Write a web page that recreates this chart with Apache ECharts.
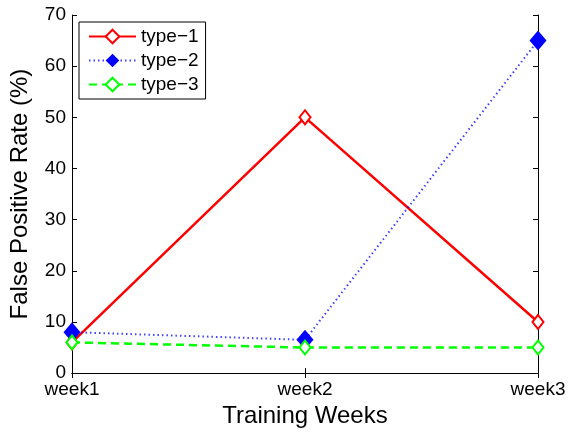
<!DOCTYPE html>
<html><head><meta charset="utf-8">
<script src="https://cdn.jsdelivr.net/npm/echarts@6/dist/echarts.min.js"></script>
<style>html,body{margin:0;padding:0;background:#fff}#c{width:570px;height:433px}</style>
</head><body><div id="c"></div>
<script>
const categories = ['week1', 'week2', 'week3'];
const type1 = [6, 50, 10];
const type2 = [8, 6.5, 65];
const type3 = [6, 5, 5];
const seriesNames = ['type\u22121', 'type\u22122', 'type\u22123'];
const yTicks = {min: 0, max: 70, interval: 10};

const font = 'Liberation Sans, Arial, Helvetica, sans-serif';
const chart = echarts.init(document.getElementById('c'));
const axisLine = {show: true, lineStyle: {color: '#000', width: 1}};
const tick = {show: true, inside: true, length: 5, lineStyle: {color: '#000'}};
chart.setOption({
  animation: false,
  backgroundColor: '#fff',
  grid: {left: 69, top: 15, right: 32, bottom: 53, containLabel: false},
  legend: {
    orient: 'vertical', left: 79, top: 22,
    padding: [5, 7, 5, 9], itemGap: 5,
    itemWidth: 47, itemHeight: 17,
    borderColor: '#000', borderWidth: 1, backgroundColor: '#fff',
    textStyle: {fontFamily: font, fontSize: 19, color: '#000', lineHeight: 19},
    data: seriesNames
  },
  xAxis: [{
    type: 'category', data: categories, boundaryGap: false,
    axisLine: axisLine, axisTick: Object.assign({alignWithLabel: true}, tick),
    axisLabel: {fontFamily: font, fontSize: 19, color: '#000', margin: 7},
    splitLine: {show: false},
    name: 'Training Weeks', nameLocation: 'middle', nameGap: 28,
    nameTextStyle: {fontFamily: font, fontSize: 24, color: '#000'}
  }, {
    type: 'category', data: categories, boundaryGap: false, position: 'top',
    axisLine: axisLine, axisTick: tick, axisLabel: {show: false}, splitLine: {show: false}
  }],
  yAxis: [{
    type: 'value', min: yTicks.min, max: yTicks.max, interval: yTicks.interval,
    axisLine: axisLine, axisTick: tick,
    axisLabel: {fontFamily: font, fontSize: 19, color: '#000', margin: 6},
    splitLine: {show: false},
    name: 'False Positive Rate (%)', nameLocation: 'middle', nameGap: 40,
    nameTextStyle: {fontFamily: font, fontSize: 24, color: '#000'}
  }, {
    type: 'value', min: yTicks.min, max: yTicks.max, interval: yTicks.interval, position: 'right',
    axisLine: axisLine, axisTick: tick, axisLabel: {show: false}, splitLine: {show: false}
  }],
  series: [{
    name: seriesNames[0], type: 'line', data: type1, z: 3,
    symbol: 'diamond', symbolSize: [11, 14], showAllSymbol: true,
    lineStyle: {color: '#ff0000', width: 2.5, type: 'solid'},
    itemStyle: {color: '#ffffff', borderColor: '#ff0000', borderWidth: 2}
  }, {
    name: seriesNames[1], type: 'line', data: type2, z: 4,
    symbol: 'diamond', symbolSize: [17, 20], showAllSymbol: true,
    lineStyle: {color: '#0000ff', width: 2, type: [1.5, 3], opacity: 0.75},
    itemStyle: {color: '#0000ff', borderColor: '#0000ff', borderWidth: 0}
  }, {
    name: seriesNames[2], type: 'line', data: type3, z: 5,
    symbol: 'diamond', symbolSize: [11, 14], showAllSymbol: true,
    lineStyle: {color: '#00ff00', width: 2.5, type: [8, 5]},
    itemStyle: {color: '#ffffff', borderColor: '#00ff00', borderWidth: 2}
  }]
});
</script></body></html>
